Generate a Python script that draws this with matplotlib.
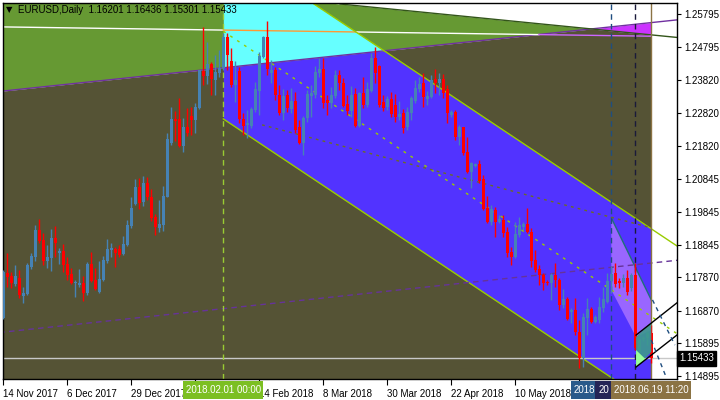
import numpy as np
import matplotlib.pyplot as plt
import matplotlib.transforms as mtransforms
from matplotlib.patches import Rectangle, Polygon

plt.rcParams['font.family'] = ['Liberation Sans', 'DejaVu Sans']

# EURUSD daily candles, bar 0 = 14 Nov 2017, last bar = 2018.06.19
opens = [1.1664, 1.1800, 1.1791, 1.1767, 1.1785, 1.1731, 1.1737, 1.1818, 1.1848, 1.1929,
         1.1899, 1.1836, 1.1845, 1.1905, 1.1860, 1.1866, 1.1827, 1.1797, 1.1770, 1.1764,
         1.1770, 1.1740, 1.1827, 1.1779, 1.1743, 1.1779, 1.1836, 1.1869, 1.1872, 1.1872,
         1.1857, 1.1884, 1.1941, 1.2008, 1.2059, 1.2014, 1.2071, 1.2029, 1.1969, 1.1935,
         1.1944, 1.2029, 1.2191, 1.2264, 1.2264, 1.2182, 1.2240, 1.2273, 1.2261, 1.2297,
         1.2408, 1.2393, 1.2429, 1.2381, 1.2402, 1.2417, 1.2511, 1.2438, 1.2366, 1.2408,
         1.2264, 1.2246, 1.2243, 1.2291, 1.2348, 1.2450, 1.2511, 1.2402, 1.2411, 1.2336,
         1.2282, 1.2336, 1.2294, 1.2318, 1.2240, 1.2191, 1.2267, 1.2333, 1.2336, 1.2402,
         1.2414, 1.2321, 1.2312, 1.2333, 1.2396, 1.2372, 1.2309, 1.2288, 1.2339, 1.2243,
         1.2342, 1.2306, 1.2348, 1.2447, 1.2423, 1.2315, 1.2300, 1.2324, 1.2306, 1.2270,
         1.2282, 1.2240, 1.2282, 1.2318, 1.2354, 1.2372, 1.2324, 1.2330, 1.2384, 1.2372,
         1.2384, 1.2354, 1.2276, 1.2285, 1.2209, 1.2240, 1.2164, 1.2104, 1.2122, 1.2128,
         1.2083, 1.1996, 1.1954, 1.1990, 1.1954, 1.1960, 1.1923, 1.1863, 1.1848, 1.1914,
         1.1938, 1.1947, 1.1923, 1.1839, 1.1812, 1.1794, 1.1773, 1.1770, 1.1794, 1.1779,
         1.1704, 1.1722, 1.1683, 1.1689, 1.1622, 1.1544, 1.1664, 1.1692, 1.1652, 1.1658,
         1.1695, 1.1713, 1.1776, 1.1800, 1.1776, 1.1770, 1.1785, 1.1755, 1.1794, 1.1562,
         1.1601, 1.1605, 1.16201]
highs = [1.1809, 1.1860, 1.1803, 1.1824, 1.1809, 1.1758, 1.1830, 1.1860, 1.1944, 1.1963,
         1.1920, 1.1884, 1.1932, 1.1941, 1.1875, 1.1887, 1.1848, 1.1815, 1.1779, 1.1812,
         1.1791, 1.1833, 1.1863, 1.1815, 1.1836, 1.1851, 1.1902, 1.1890, 1.1878, 1.1884,
         1.1911, 1.1960, 1.2029, 1.2083, 1.2086, 1.2092, 1.2089, 1.2053, 1.1978, 1.2020,
         1.2062, 1.2221, 1.2300, 1.2288, 1.2327, 1.2267, 1.2297, 1.2300, 1.2312, 1.2411,
         1.2541, 1.2496, 1.2435, 1.2456, 1.2471, 1.2523, 1.2523, 1.2477, 1.2438, 1.2420,
         1.2282, 1.2291, 1.2300, 1.2375, 1.2465, 1.2514, 1.2559, 1.2441, 1.2420, 1.2366,
         1.2354, 1.2351, 1.2357, 1.2345, 1.2261, 1.2273, 1.2351, 1.2366, 1.2423, 1.2447,
         1.2447, 1.2336, 1.2360, 1.2411, 1.2411, 1.2387, 1.2336, 1.2363, 1.2357, 1.2345,
         1.2390, 1.2375, 1.2462, 1.2480, 1.2426, 1.2336, 1.2333, 1.2345, 1.2339, 1.2318,
         1.2294, 1.2300, 1.2333, 1.2381, 1.2390, 1.2402, 1.2348, 1.2396, 1.2414, 1.2402,
         1.2399, 1.2366, 1.2291, 1.2291, 1.2246, 1.2240, 1.2209, 1.2134, 1.2131, 1.2140,
         1.2095, 1.2032, 1.2005, 1.1999, 1.1975, 1.1975, 1.1938, 1.1878, 1.1954, 1.1969,
         1.1954, 1.1996, 1.1935, 1.1869, 1.1824, 1.1800, 1.1779, 1.1800, 1.1830, 1.1785,
         1.1752, 1.1728, 1.1695, 1.1725, 1.1658, 1.1679, 1.1725, 1.1698, 1.1673, 1.1728,
         1.1758, 1.1800, 1.1821, 1.1830, 1.1785, 1.1797, 1.1809, 1.1800, 1.1830, 1.1613,
         1.1610, 1.1625, 1.16436]
lows = [1.1661, 1.1758, 1.1755, 1.1761, 1.1725, 1.1710, 1.1734, 1.1812, 1.1836, 1.1890,
        1.1824, 1.1815, 1.1806, 1.1848, 1.1827, 1.1803, 1.1779, 1.1767, 1.1728, 1.1758,
        1.1716, 1.1734, 1.1773, 1.1749, 1.1740, 1.1776, 1.1830, 1.1848, 1.1818, 1.1848,
        1.1854, 1.1881, 1.1935, 1.2005, 1.1993, 1.2002, 1.2020, 1.1957, 1.1914, 1.1923,
        1.1926, 1.2029, 1.2185, 1.2197, 1.2179, 1.2164, 1.2212, 1.2215, 1.2221, 1.2294,
        1.2366, 1.2369, 1.2336, 1.2336, 1.2390, 1.2411, 1.2411, 1.2360, 1.2315, 1.2252,
        1.2215, 1.2206, 1.2237, 1.2285, 1.2276, 1.2447, 1.2396, 1.2372, 1.2321, 1.2276,
        1.2261, 1.2285, 1.2282, 1.2221, 1.2188, 1.2155, 1.2255, 1.2270, 1.2327, 1.2390,
        1.2297, 1.2276, 1.2297, 1.2327, 1.2351, 1.2300, 1.2276, 1.2270, 1.2240, 1.2240,
        1.2297, 1.2300, 1.2345, 1.2372, 1.2300, 1.2288, 1.2291, 1.2270, 1.2255, 1.2261,
        1.2221, 1.2231, 1.2261, 1.2312, 1.2345, 1.2300, 1.2306, 1.2327, 1.2342, 1.2336,
        1.2327, 1.2252, 1.2270, 1.2200, 1.2185, 1.2155, 1.2101, 1.2056, 1.2119, 1.2071,
        1.1990, 1.1951, 1.1945, 1.1908, 1.1951, 1.1908, 1.1848, 1.1824, 1.1845, 1.1908,
        1.1929, 1.1920, 1.1818, 1.1803, 1.1764, 1.1749, 1.1764, 1.1719, 1.1758, 1.1689,
        1.1695, 1.1658, 1.1649, 1.1613, 1.1514, 1.1517, 1.1613, 1.1649, 1.1649, 1.1649,
        1.1683, 1.1710, 1.1740, 1.1758, 1.1755, 1.1758, 1.1734, 1.1746, 1.1568, 1.1544,
        1.1595, 1.1583, 1.15301]
closes = [1.1803, 1.1788, 1.1770, 1.1791, 1.1734, 1.1740, 1.1824, 1.1851, 1.1929, 1.1896,
          1.1836, 1.1848, 1.1905, 1.1890, 1.1866, 1.1824, 1.1794, 1.1770, 1.1773, 1.1770,
          1.1740, 1.1827, 1.1776, 1.1752, 1.1782, 1.1839, 1.1872, 1.1875, 1.1860, 1.1854,
          1.1887, 1.1944, 1.1996, 1.2059, 1.2011, 1.2071, 1.2029, 1.1966, 1.1938, 1.1947,
          1.2032, 1.2203, 1.2264, 1.2258, 1.2182, 1.2240, 1.2221, 1.2261, 1.2300, 1.2411,
          1.2393, 1.2429, 1.2384, 1.2405, 1.2417, 1.2511, 1.2456, 1.2366, 1.2381, 1.2264,
          1.2243, 1.2252, 1.2294, 1.2354, 1.2453, 1.2511, 1.2414, 1.2411, 1.2336, 1.2282,
          1.2333, 1.2297, 1.2318, 1.2231, 1.2191, 1.2267, 1.2339, 1.2342, 1.2405, 1.2414,
          1.2312, 1.2312, 1.2336, 1.2396, 1.2372, 1.2303, 1.2288, 1.2336, 1.2243, 1.2342,
          1.2306, 1.2354, 1.2447, 1.2402, 1.2306, 1.2297, 1.2324, 1.2279, 1.2270, 1.2279,
          1.2237, 1.2285, 1.2327, 1.2357, 1.2369, 1.2330, 1.2333, 1.2381, 1.2372, 1.2384,
          1.2342, 1.2282, 1.2285, 1.2209, 1.2240, 1.2161, 1.2104, 1.2131, 1.2128, 1.2077,
          1.1993, 1.1954, 1.1993, 1.1954, 1.1963, 1.1920, 1.1860, 1.1848, 1.1917, 1.1944,
          1.1947, 1.1923, 1.1836, 1.1809, 1.1794, 1.1770, 1.1770, 1.1794, 1.1779, 1.1704,
          1.1722, 1.1661, 1.1689, 1.1622, 1.1544, 1.1667, 1.1692, 1.1652, 1.1667, 1.1698,
          1.1722, 1.1776, 1.1797, 1.1767, 1.1770, 1.1785, 1.1743, 1.1794, 1.1574, 1.1601,
          1.1605, 1.1620, 1.15433]

bid = 1.15433
price_ticks = [1.25795, 1.24795, 1.23820, 1.22820, 1.21820, 1.20845,
               1.19845, 1.18845, 1.17870, 1.16870, 1.15895, 1.14895]
date_ticks = [0, 16, 32, 48, 64, 80, 96, 112, 128, 144]
date_labels = ['14 Nov 2017', '6 Dec 2017', '29 Dec 2017', '', '14 Feb 2018',
               '8 Mar 2018', '30 Mar 2018', '22 Apr 2018', '10 May 2018', '']

# chart objects (bar index, price)
purple_line = [(0, 1.2348), (162, 1.2554)]
green_edge = [(84.2, 1.2610), (162, 1.2517)]
white_line = [(0, 1.2541), (162, 1.2513)]
chan_low = [(55, 1.2264), (162, 1.1405)]
chan_up = [(55, 1.2792), (162, 1.1933)]
olive_line = [(64.7, 1.2246), (162, 1.1936)]
purple_dash = [(0, 1.1622), (162, 1.1830)]
lavender = [(152, 1.1966), (162, 1.1719), (162, 1.1628), (158.2, 1.1607), (152, 1.1749)]
teal_box = [(158.2, 1.1607), (162, 1.1652), (162, 1.1562), (158.2, 1.1517)]
mint_tri = [(158.2, 1.1568), (158.2, 1.1517), (160.6, 1.1540)]
small_chan = [[(158.2, 1.1613), (168.4, 1.1710)], [(158.2, 1.1517), (168.4, 1.1613)]]
blue_dash = [[(162.3, 1.1719), (167.9, 1.1583)], [(162.0, 1.1598), (165.5, 1.1493)]]
v_lines = [55, 152, 158, 162]
box_labels = ['2018.02.01 00:00', '2018', '20', '2018.06.19 11:20']

X0, X1 = -0.2, 168.43
Y0, Y1 = 1.14808, 1.26130


def line_at(pts, x):
    (xa, ya), (xb, yb) = pts
    return ya + (yb - ya) * (np.asarray(x) - xa) / (xb - xa)


fig = plt.figure(figsize=(7.2, 4.0), dpi=100)
ax = fig.add_axes([2.5 / 720, 21 / 400, 674.5 / 720, 376 / 400])
ax.set_facecolor('white')
ax.set_xlim(X0, X1)
ax.set_ylim(Y0, Y1)

# background objects
gx = np.linspace(-1, 162, 3000)
P = line_at(purple_line, gx)
D = line_at(green_edge, gx)
ax.fill_between(gx, Y0 - 0.01, np.minimum(P, D), color='#555335', lw=0, zorder=0)
ax.fill_between(gx, P, D, where=P < D, interpolate=True, color='#669933', lw=0, zorder=0)
ax.fill_between(gx, P, D, where=P > D, interpolate=True, color='#cc33ff', lw=0, zorder=0)

cx = np.linspace(55, 162, 2000)
Pc = line_at(purple_line, cx)
Lc = line_at(chan_low, cx)
Uc = line_at(chan_up, cx)
ax.fill_between(cx, np.maximum(Lc, Pc), np.minimum(Uc, Y1 + 0.01), where=Uc > Pc,
                interpolate=True, color='#66ffff', lw=0, zorder=0.5)
ax.fill_between(cx, Lc, np.minimum(Uc, Pc), where=Lc < Pc, interpolate=True,
                color='#5233ff', lw=0, zorder=0.5)

ax.add_patch(Polygon(lavender, closed=True, fc='#9966ff', ec='none', zorder=0.8))
ax.plot([lavender[0][0], lavender[1][0]], [lavender[0][1], lavender[1][1]],
        color='#1f6f7a', lw=1, zorder=0.9)

# lines
lx = np.array([-1, X1])
ax.plot(lx, line_at(purple_line, lx), color='#7030a0', lw=1, zorder=1)
ax.plot([84.2, X1], line_at(green_edge, [84.2, X1]), color='#33551a', lw=1, zorder=1)
wseg = [(0, 55, 'white'), (55, 88.4, '#ff9933'), (88.4, 133.9, 'white'), (133.9, 162, '#cc66ff')]
for a, b, col in wseg:
    ax.plot([a, b], line_at(white_line, [a, b]), color=col, lw=1, zorder=1)
ex = np.array([55, X1])
ax.plot(ex, line_at(chan_low, ex), color='#99cc00', lw=1, zorder=1.2)
ax.plot(ex, line_at(chan_up, ex), color='#99cc00', lw=1, zorder=1.2)
mid = [(a[0], (a[1] + b[1]) / 2) for a, b in zip(chan_low, chan_up)]
ax.plot(ex, line_at(mid, ex), color='#99cc00', lw=1, ls=(0, (2, 4)), zorder=1.2)
ax.plot([64.7, 162], line_at(olive_line, [64.7, 162]), color='#6b6b25', lw=1,
        ls=(0, (2, 3)), zorder=1.2)
ax.plot(lx, line_at(purple_dash, lx), color='#663399', lw=1, ls=(0, (4, 3)), zorder=1.2)
ax.axhline(bid, color='#c8c8c8', lw=1, zorder=1.3)

vcol = ['#99cc33', '#1f4e80', '#1a1a3a', '#8b7344']
vls = [(0, (4, 3)), (0, (4, 3)), (0, (4, 3)), '-']
for v, col, st in zip(v_lines, vcol, vls):
    ax.axvline(v, color=col, lw=1, ls=st, zorder=1.4)

# candles
o = np.array(opens)
h = np.array(highs)
l = np.array(lows)
c = np.array(closes)
x = np.arange(len(o))
up = c >= o
cols = np.where(up, '#4682b4', '#ff0000')
ax.vlines(x, l, h, colors=cols, lw=1, zorder=3)
ax.bar(x, np.maximum(np.abs(c - o), 0.0003), bottom=np.minimum(o, c), width=0.75,
       color=cols, lw=0, zorder=3)

# small objects on the last bars
ax.add_patch(Polygon(teal_box, closed=True, fc='#3c9a8c', ec='none', alpha=0.9, zorder=3.5))
ax.add_patch(Polygon(mint_tri, closed=True, fc='#99ff99', ec='none', zorder=3.6))
for seg in small_chan:
    ax.plot(*zip(*seg), color='black', lw=1, zorder=3.7)
for seg in blue_dash:
    ax.plot(*zip(*seg), color='#1f4e80', lw=1, ls=(0, (3, 3)), zorder=3.7)

# axes styling
for s in ax.spines.values():
    s.set_color('black')
    s.set_linewidth(1)
ax.yaxis.tick_right()
ax.set_yticks(price_ticks)
ax.set_yticklabels(['%.5f' % p for p in price_ticks])
ax.tick_params(axis='y', length=3, pad=2, labelsize=7, colors='black')
ax.set_xticks(date_ticks)
ax.set_xticklabels(date_labels)
for t in ax.get_xticklabels():
    t.set_horizontalalignment('left')
ax.tick_params(axis='x', length=4, pad=3, labelsize=7, colors='black')

# time labels of the vertical lines, later boxes cover earlier ones
bt = mtransforms.blended_transform_factory(ax.transData, ax.transAxes)
bcol = ['#7cbf22', '#2a5a8a', '#242456', '#8b7344']
text_pos = [(55, 'center'), (142.6, 'left'), (148.7, 'left'), (162, 'center')]
for k, (v, lab, col, (tx, ha)) in enumerate(zip(v_lines, box_labels, bcol, text_pos)):
    ax.add_patch(Rectangle((v - 10, -0.0532), 20, 0.0479, transform=bt, fc=col,
                           ec='none', clip_on=False, zorder=10 + 2 * k))
    ax.text(tx, -0.0292, lab, transform=bt, ha=ha, va='center', color='white',
            fontsize=7, clip_on=False, zorder=11 + 2 * k)

pt = mtransforms.blended_transform_factory(ax.transAxes, ax.transData)
ax.text(1.003, bid, '1.15433', transform=pt, ha='left', va='center', color='white',
        fontsize=7, zorder=30, clip_on=False,
        bbox=dict(boxstyle='square,pad=0.25', fc='black', ec='black'))

fig.text(6 / 720, 1 - 10 / 400, '\u25bc', fontsize=6, va='center', color='black',
         family=['DejaVu Sans'])
fig.text(18 / 720, 1 - 10 / 400, 'EURUSD,Daily  1.16201 1.16436 1.15301 1.15433',
         fontsize=7, va='center', color='black')

fig.savefig('out.png', dpi=100)
